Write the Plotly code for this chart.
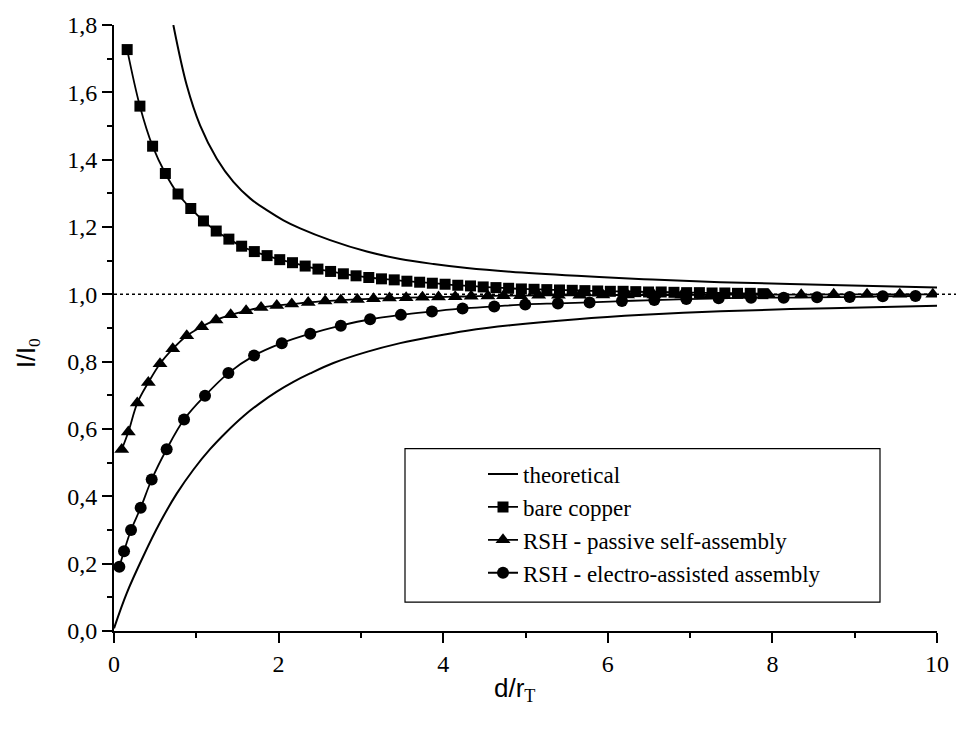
import plotly.graph_objects as go

# ---------------- data ----------------
theo_up_x = [0.721, 0.884, 1.046, 1.249, 1.451, 1.654, 1.857, 2.059, 2.262, 2.626,
             3.072, 3.477, 3.882, 4.288, 4.815, 5.625, 6.435, 7.368, 8.705, 10.0]
theo_up_y = [1.800, 1.621, 1.502, 1.403, 1.334, 1.285, 1.250, 1.220, 1.196, 1.161,
             1.127, 1.105, 1.090, 1.078, 1.067, 1.055, 1.045, 1.036, 1.028, 1.020]

theo_lo_x = [0.0, 0.154, 0.356, 0.559, 0.762, 0.964, 1.167, 1.370, 1.572, 1.775, 1.978,
             2.180, 2.383, 2.666, 3.072, 3.477, 3.882, 4.288, 4.815, 5.625, 6.435,
             7.368, 8.705, 10.0]
theo_lo_y = [0.008, 0.112, 0.222, 0.322, 0.408, 0.479, 0.540, 0.592, 0.638, 0.677, 0.711,
             0.740, 0.765, 0.796, 0.829, 0.855, 0.875, 0.892, 0.908, 0.926, 0.939,
             0.950, 0.959, 0.966]

bare_x = [0.16, 0.315, 0.469, 0.624, 0.778, 0.933, 1.087, 1.242, 1.396, 1.551, 1.705,
          1.860, 2.014, 2.169, 2.323, 2.478, 2.632, 2.787, 2.941, 3.096, 3.250, 3.405,
          3.559, 3.714, 3.868, 4.023, 4.177, 4.332, 4.486, 4.641, 4.795, 4.950, 5.104,
          5.259, 5.413, 5.568, 5.722, 5.877, 6.031, 6.186, 6.340, 6.495, 6.649, 6.804,
          6.958, 7.113, 7.267, 7.422, 7.576, 7.731, 7.885]
bare_y = [1.727, 1.559, 1.440, 1.359, 1.298, 1.255, 1.218, 1.188, 1.164, 1.143, 1.127,
          1.115, 1.103, 1.094, 1.084, 1.075, 1.068, 1.061, 1.055, 1.050, 1.046, 1.043,
          1.039, 1.036, 1.033, 1.030, 1.027, 1.025, 1.022, 1.020, 1.018, 1.016, 1.015,
          1.014, 1.013, 1.012, 1.011, 1.010, 1.009, 1.009, 1.008, 1.007, 1.007, 1.006,
          1.005, 1.005, 1.004, 1.004, 1.003, 1.003, 1.002]

pass_x = [0.094, 0.174, 0.283, 0.417, 0.559, 0.714, 0.884, 1.066, 1.240, 1.418, 1.605,
          1.787, 1.978, 2.160, 2.360, 2.565, 2.756, 2.958, 3.153, 3.347, 3.550, 3.748,
          3.943, 4.146, 4.340, 4.543, 4.733, 4.94, 5.16, 5.40, 5.66, 5.94, 6.24, 6.56,
          6.90, 7.25, 7.60, 7.955, 8.350, 8.745, 9.150, 9.548, 9.949]
pass_y = [0.539, 0.591, 0.677, 0.738, 0.794, 0.838, 0.877, 0.904, 0.924, 0.939, 0.951,
          0.961, 0.967, 0.971, 0.976, 0.980, 0.983, 0.985, 0.987, 0.989, 0.990, 0.991,
          0.992, 0.993, 0.994, 0.995, 0.996, 0.996, 0.997, 0.997, 0.997, 0.998, 0.998,
          0.998, 0.998, 0.999, 0.999, 0.999, 0.999, 1.000, 1.000, 1.000, 1.000]

elec_x = [0.065, 0.122, 0.207, 0.324, 0.458, 0.640, 0.851, 1.106, 1.390, 1.702, 2.039,
          2.385, 2.756, 3.112, 3.486, 3.863, 4.235, 4.620, 4.997, 5.394, 5.779, 6.172,
          6.565, 6.954, 7.347, 7.741, 8.137, 8.543, 8.939, 9.341, 9.739]
elec_y = [0.191, 0.237, 0.300, 0.366, 0.450, 0.540, 0.628, 0.699, 0.766, 0.818, 0.855,
          0.883, 0.907, 0.926, 0.939, 0.949, 0.958, 0.964, 0.970, 0.973, 0.976, 0.980,
          0.983, 0.986, 0.988, 0.990, 0.990, 0.991, 0.992, 0.994, 0.995]

names = ["theoretical", "bare copper", "RSH - passive self-assembly",
         "RSH - electro-assisted assembly"]
x_ticks = [0, 2, 4, 6, 8, 10]
y_ticks = [0.0, 0.2, 0.4, 0.6, 0.8, 1.0, 1.2, 1.4, 1.6, 1.8]

# ---------------- figure ----------------
BLACK = "#000000"
SERIF = "Liberation Serif, Times New Roman, serif"
SANS = "Liberation Sans, Arial, sans-serif"
fig = go.Figure()

fig.add_trace(go.Scatter(x=theo_up_x, y=theo_up_y, mode="lines", name=names[0],
                         line=dict(color=BLACK, width=2, shape="spline", smoothing=1),
                         legendgroup="a"))
fig.add_trace(go.Scatter(x=theo_lo_x, y=theo_lo_y, mode="lines", name=names[0],
                         line=dict(color=BLACK, width=2, shape="spline", smoothing=1),
                         showlegend=False, legendgroup="a"))
fig.add_trace(go.Scatter(x=bare_x, y=bare_y, mode="lines+markers", name=names[1],
                         line=dict(color=BLACK, width=1.8, shape="spline"),
                         marker=dict(symbol="square", size=11, color=BLACK),
                         legendgroup="b"))
fig.add_trace(go.Scatter(x=pass_x, y=pass_y, mode="lines+markers", name=names[2],
                         line=dict(color=BLACK, width=1.8, shape="spline"),
                         marker=dict(symbol="triangle-up", size=13, color=BLACK),
                         legendgroup="c"))
fig.add_trace(go.Scatter(x=elec_x, y=elec_y, mode="lines+markers", name=names[3],
                         line=dict(color=BLACK, width=1.8, shape="spline"),
                         marker=dict(symbol="circle", size=12, color=BLACK),
                         legendgroup="d"))

L, R, T, B = 114, 27, 23, 102
W, H = 964, 733
pw, ph = W - L - R, H - T - B

def px_x(p):
    return (p - L) / pw

def px_y(p):
    return (H - B - p) / ph

# dotted reference line at I/I0 = 1
fig.add_shape(type="line", xref="paper", yref="y", x0=0, x1=px_x(956), y0=1, y1=1,
              line=dict(color=BLACK, width=1.5, dash="dot"), layer="below")
# legend frame
fig.add_shape(type="rect", xref="paper", yref="paper",
              x0=px_x(405), x1=px_x(880), y0=px_y(602), y1=px_y(448),
              line=dict(color=BLACK, width=1.2), fillcolor="white", layer="below")

axis_common = dict(showline=True, linecolor=BLACK, linewidth=2, ticks="outside",
                   ticklen=10, tickwidth=2, tickcolor=BLACK, showgrid=False,
                   zeroline=False, mirror=False,
                   tickfont=dict(family=SERIF, size=24, color=BLACK))

fig.update_xaxes(range=[0, 10], tickvals=x_ticks, ticktext=[str(v) for v in x_ticks],
                 minor=dict(dtick=1, ticklen=5, tickwidth=2, tickcolor=BLACK, ticks="outside"),
                 **axis_common)
fig.update_yaxes(range=[0, 1.8], tickvals=y_ticks, tickformat=".1f",
                 minor=dict(dtick=0.1, ticklen=5, tickwidth=2, tickcolor=BLACK, ticks="outside"),
                 **axis_common)

fig.add_annotation(text="I/I<sub><span style='font-family:Liberation Serif'>0</span></sub>",
                   xref="paper", yref="paper",
                   x=px_x(28), y=px_y(352), textangle=-90, showarrow=False,
                   font=dict(family=SANS, size=25, color=BLACK),
                   xanchor="center", yanchor="middle")
fig.add_annotation(text="d/r<sub><span style='font-family:Liberation Serif'>T</span></sub>",
                   xref="paper", yref="paper",
                   x=px_x(514), y=px_y(690), showarrow=False,
                   font=dict(family=SANS, size=26, color=BLACK),
                   xanchor="center", yanchor="middle")

fig.update_layout(
    width=W, height=H,
    margin=dict(l=L, r=R, t=T, b=B),
    paper_bgcolor="white", plot_bgcolor="white",
    separators=",.",
    showlegend=True,
    legend=dict(x=px_x(483), y=px_y(452), xanchor="left", yanchor="top",
                bgcolor="rgba(0,0,0,0)", borderwidth=0, tracegroupgap=0,
                font=dict(family=SERIF, size=23, color=BLACK)),
)

fig.write_html("out.html")
